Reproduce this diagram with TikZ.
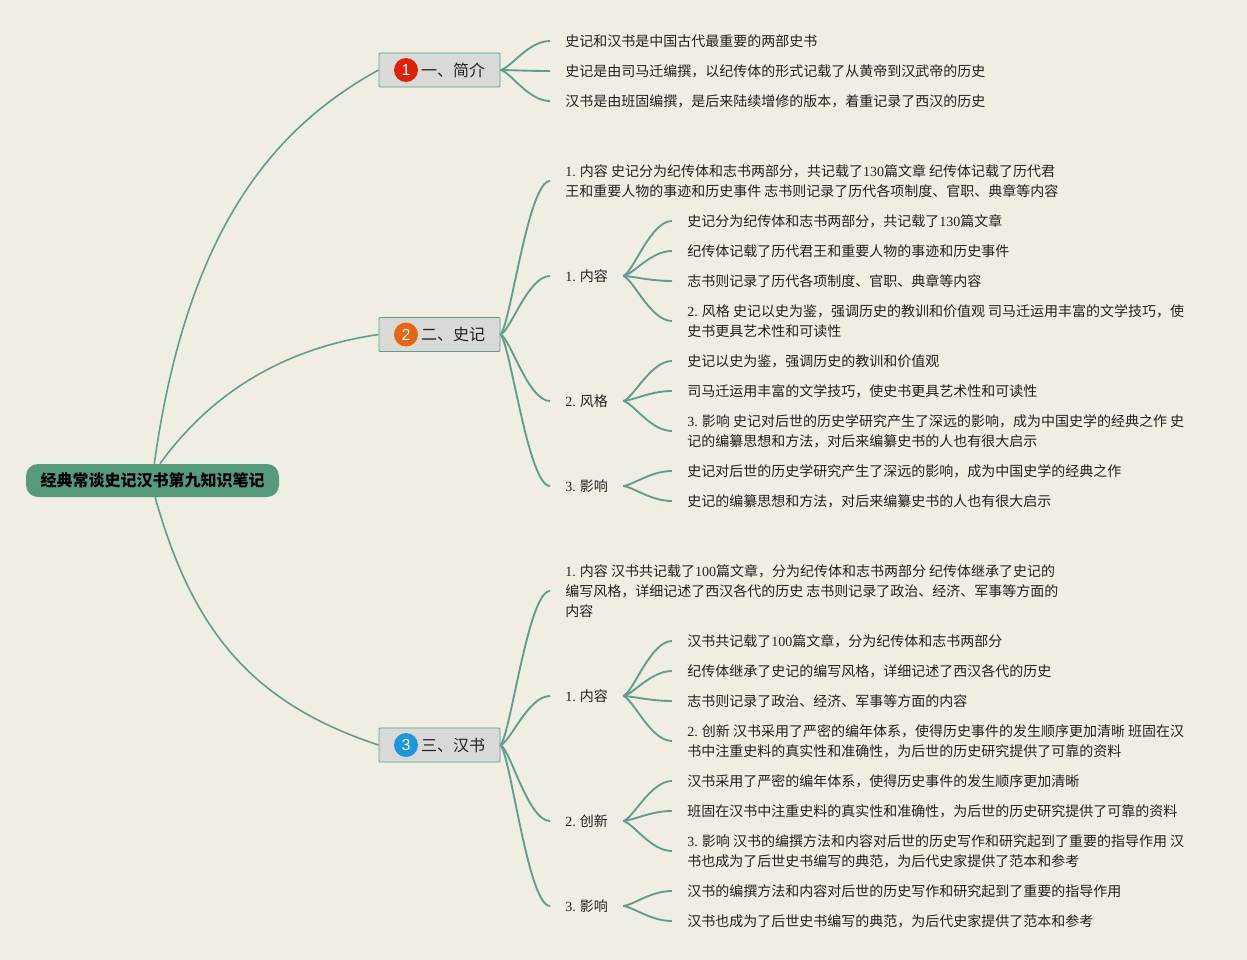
\documentclass[tikz,border=0pt]{standalone}
\usepackage{fontspec}
\setmainfont{Noto Sans CJK SC}
\newfontfamily\latinfont{Liberation Serif}
\newfontfamily\digitfont{Liberation Sans}
\newcommand{\ltn}[1]{{\latinfont #1}}
\usetikzlibrary{calc}
\definecolor{paper}{HTML}{F0EDE3}
\definecolor{linegreen}{HTML}{5F9E8E}
\definecolor{rootgreen}{HTML}{569A7C}
\definecolor{boxgrey}{HTML}{D9D9D7}
\definecolor{inkgrey}{HTML}{222222}
\definecolor{badgered}{HTML}{DE210A}
\definecolor{badgeorange}{HTML}{E8660F}
\definecolor{badgeblue}{HTML}{1C96DC}

\begin{document}
\begin{tikzpicture}[x=0.75pt, y=-0.75pt,
	every node/.style={text=inkgrey, font=\fontsize{10.5}{15}\selectfont},
	rootbox/.style={fill=rootgreen, rounded corners=9pt, minimum width=189.75pt, minimum height=24.75pt, inner sep=0pt, text=black, font=\fontsize{12}{15}\selectfont\bfseries},
	topic/.style={draw=linegreen, fill=boxgrey, line width=0.7pt, rounded corners=0.8pt, minimum width=90.75pt, minimum height=25.5pt, inner ysep=0pt, inner xsep=11.25pt, text width=68.25pt, align=right, font=\fontsize{12}{15}\selectfont},
	badge/.style={circle, minimum size=18pt, inner sep=0pt, text=white, font=\fontsize{12}{12}\selectfont\digitfont},
	item/.style={anchor=west, align=left, inner xsep=11.25pt, inner ysep=0pt},
	trunk/.style={draw=linegreen, line width=1.2pt},
	link/.style={draw=linegreen, line width=1.4pt, to path={.. controls ($(\tikztostart)!.06!(\tikztotarget)+(7,0)$) and ($(\tikztotarget)!.44!(\tikztostart |- \tikztotarget)$) .. (\tikztotarget)}}]
	\fill[paper] (0,0) rectangle (1247,960);
	\node[rootbox] (root) at (152.5,480.5) {经典常谈史记汉书第九知识笔记};

	\node[topic] (intro) at (439.5,70) {一、简介};
	\node[topic] (hist) at (439.5,334.5) {二、史记};
	\node[topic] (han) at (439.5,745) {三、汉书};
	\node[badge, fill=badgered] (introb) at (406,70) {1};
	\node[badge, fill=badgeorange] (histb) at (406,334.5) {2};
	\node[badge, fill=badgeblue] (hanb) at (406,745) {3};

	\node[item] (introa) at (550,41) {史记和汉书是中国古代最重要的两部史书};
	\node[item] (introc) at (550,71) {史记是由司马迁编撰，以纪传体的形式记载了从黄帝到汉武帝的历史};
	\node[item] (introd) at (550,101) {汉书是由班固编撰，是后来陆续增修的版本，着重记录了西汉的历史};

	\node[item] (histm) at (550,181) {\ltn{1.} 内容 史记分为纪传体和志书两部分，共记载了\ltn{130}篇文章 纪传体记载了历代君\\王和重要人物的事迹和历史事件 志书则记录了历代各项制度、官职、典章等内容};
	\node[item] (hist1) at (550,276) {\ltn{1.} 内容};
	\node[item] (hist1a) at (672,221) {史记分为纪传体和志书两部分，共记载了\ltn{130}篇文章};
	\node[item] (hist1b) at (672,251) {纪传体记载了历代君王和重要人物的事迹和历史事件};
	\node[item] (hist1c) at (672,281) {志书则记录了历代各项制度、官职、典章等内容};
	\node[item] (hist1d) at (672,321) {\ltn{2.} 风格 史记以史为鉴，强调历史的教训和价值观 司马迁运用丰富的文学技巧，使\\史书更具艺术性和可读性};
	\node[item] (hist2) at (550,401) {\ltn{2.} 风格};
	\node[item] (hist2a) at (672,361) {史记以史为鉴，强调历史的教训和价值观};
	\node[item] (hist2b) at (672,391) {司马迁运用丰富的文学技巧，使史书更具艺术性和可读性};
	\node[item] (hist2c) at (672,431) {\ltn{3.} 影响 史记对后世的历史学研究产生了深远的影响，成为中国史学的经典之作 史\\记的编纂思想和方法，对后来编纂史书的人也有很大启示};
	\node[item] (hist3) at (550,486) {\ltn{3.} 影响};
	\node[item] (hist3a) at (672,471) {史记对后世的历史学研究产生了深远的影响，成为中国史学的经典之作};
	\node[item] (hist3b) at (672,501) {史记的编纂思想和方法，对后来编纂史书的人也有很大启示};

	\node[item] (hanm) at (550,591) {\ltn{1.} 内容 汉书共记载了\ltn{100}篇文章，分为纪传体和志书两部分 纪传体继承了史记的\\编写风格，详细记述了西汉各代的历史 志书则记录了政治、经济、军事等方面的\\内容};
	\node[item] (han1) at (550,696) {\ltn{1.} 内容};
	\node[item] (han1a) at (672,641) {汉书共记载了\ltn{100}篇文章，分为纪传体和志书两部分};
	\node[item] (han1b) at (672,671) {纪传体继承了史记的编写风格，详细记述了西汉各代的历史};
	\node[item] (han1c) at (672,701) {志书则记录了政治、经济、军事等方面的内容};
	\node[item] (han1d) at (672,741) {\ltn{2.} 创新 汉书采用了严密的编年体系，使得历史事件的发生顺序更加清晰 班固在汉\\书中注重史料的真实性和准确性，为后世的历史研究提供了可靠的资料};
	\node[item] (han2) at (550,821) {\ltn{2.} 创新};
	\node[item] (han2a) at (672,781) {汉书采用了严密的编年体系，使得历史事件的发生顺序更加清晰};
	\node[item] (han2b) at (672,811) {班固在汉书中注重史料的真实性和准确性，为后世的历史研究提供了可靠的资料};
	\node[item] (han2c) at (672,851) {\ltn{3.} 影响 汉书的编撰方法和内容对后世的历史写作和研究起到了重要的指导作用 汉\\书也成为了后世史书编写的典范，为后代史家提供了范本和参考};
	\node[item] (han3) at (550,906) {\ltn{3.} 影响};
	\node[item] (han3a) at (672,891) {汉书的编撰方法和内容对后世的历史写作和研究起到了重要的指导作用};
	\node[item] (han3b) at (672,921) {汉书也成为了后世史书编写的典范，为后代史家提供了范本和参考};

	\draw[trunk] (root.84) .. controls +(33,-235) and +(-105,58) .. (intro.west);
	\draw[trunk] (root.66) .. controls +(42,-58) and +(-110,16) .. (hist.west);
	\draw[trunk] (root.-81) .. controls +(36,128) and +(-131,-43) .. (han.west);

	\draw[link] (intro.east) to (introa.west);
	\draw[link] (intro.east) to (introc.west);
	\draw[link] (intro.east) to (introd.west);

	\draw[link] (hist.east) to (histm.west);
	\draw[link] (hist.east) to (hist1.west);
	\draw[link] (hist.east) to (hist2.west);
	\draw[link] (hist.east) to (hist3.west);
	\draw[link] (hist1.east) to (hist1a.west);
	\draw[link] (hist1.east) to (hist1b.west);
	\draw[link] (hist1.east) to (hist1c.west);
	\draw[link] (hist1.east) to (hist1d.west);
	\draw[link] (hist2.east) to (hist2a.west);
	\draw[link] (hist2.east) to (hist2b.west);
	\draw[link] (hist2.east) to (hist2c.west);
	\draw[link] (hist3.east) to (hist3a.west);
	\draw[link] (hist3.east) to (hist3b.west);

	\draw[link] (han.east) to (hanm.west);
	\draw[link] (han.east) to (han1.west);
	\draw[link] (han.east) to (han2.west);
	\draw[link] (han.east) to (han3.west);
	\draw[link] (han1.east) to (han1a.west);
	\draw[link] (han1.east) to (han1b.west);
	\draw[link] (han1.east) to (han1c.west);
	\draw[link] (han1.east) to (han1d.west);
	\draw[link] (han2.east) to (han2a.west);
	\draw[link] (han2.east) to (han2b.west);
	\draw[link] (han2.east) to (han2c.west);
	\draw[link] (han3.east) to (han3a.west);
	\draw[link] (han3.east) to (han3b.west);
\end{tikzpicture}
\end{document}
